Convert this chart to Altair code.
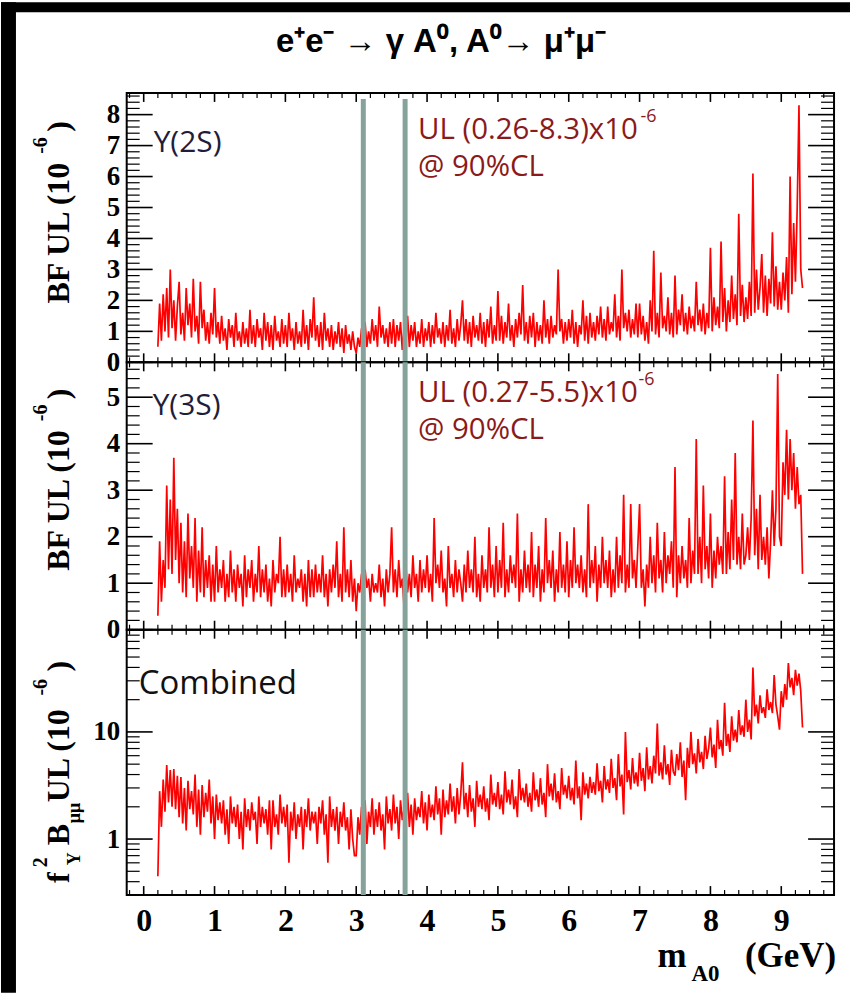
import altair as alt
import pandas as pd

# ---------------- data ----------------
# upper limits sampled every 0.025 GeV starting at 0.20 GeV
X_START = 0.20
X_STEP = 0.025

ul_2s = [
    0.5, 1.9, 0.7, 2.2, 1.0, 2.4, 0.8, 3.0, 1.1, 2.0, 0.7, 1.8,
    2.6, 0.9, 1.6, 0.7, 2.4, 1.2, 1.9, 0.8, 2.7, 1.0, 1.5, 0.6, 2.6, 1.1, 1.7, 0.7, 1.3, 0.6, 1.6, 0.9,
    2.4, 0.8, 1.3, 0.6, 1.5, 0.7, 1.1, 0.4, 1.4, 0.8, 1.2, 0.5, 1.6, 0.7, 1.0, 0.5, 1.3, 0.6, 1.1, 0.5,
    1.7, 0.6, 1.2, 0.5, 1.4, 0.8, 1.1, 0.4, 1.6, 0.7, 1.3, 0.5, 1.2, 0.4, 1.5, 0.7, 1.0, 0.5, 1.4, 0.6,
    1.2, 0.5, 1.6, 0.7, 1.1, 0.4, 1.3, 0.6, 1.0, 0.5, 1.7, 0.6, 1.2, 0.4, 1.4, 0.8, 2.1, 0.7, 1.2, 0.5,
    1.3, 0.4, 1.6, 0.7, 1.1, 0.5, 1.2, 0.4, 1.0, 0.6, 1.3, 0.5, 1.1, 0.3, 1.2, 0.6, 0.9, 0.4, 1.0, 0.5,
    0.3, 0.8, 0.5, 1.1, 0.6, 1.3, 0.5, 1.0, 0.6, 1.4, 0.7, 1.2, 0.5, 1.8, 0.8, 1.2, 0.6, 1.1, 0.5, 1.3,
    0.6, 1.4, 0.5, 1.2, 0.7, 1.3, 0.4, 1.1, 0.6, 1.5, 0.5, 1.2, 0.7, 1.3, 0.5, 1.0, 0.6, 1.4, 0.5, 1.1,
    0.7, 1.3, 0.5, 1.2, 0.6, 1.6, 0.8, 1.1, 0.6, 1.3, 0.5, 1.2, 0.7, 1.7, 0.6, 1.1, 0.5, 1.4, 0.7, 1.2,
    2.0, 0.7, 1.4, 0.6, 1.3, 0.5, 1.5, 0.8, 1.2, 0.7, 1.6, 0.6, 1.3, 0.5, 1.4, 0.8, 1.8, 0.6, 1.2, 0.7,
    2.3, 0.7, 1.5, 0.6, 1.3, 0.8, 1.9, 0.7, 1.2, 0.5, 1.4, 0.8, 1.6, 0.9, 2.5, 0.7, 1.3, 0.6, 1.5, 0.8,
    1.6, 0.5, 1.3, 0.7, 1.2, 0.6, 2.0, 0.8, 1.4, 0.6, 1.5, 0.8, 1.2, 0.9, 3.0, 1.0, 1.4, 0.6, 1.3, 0.7,
    1.4, 0.8, 1.7, 0.6, 1.3, 0.5, 1.2, 0.9, 2.0, 0.7, 1.5, 0.6, 1.6, 0.8, 1.3, 0.7, 1.5, 0.9, 1.8, 0.8,
    1.4, 0.7, 1.8, 0.9, 1.3, 1.0, 2.2, 0.8, 1.5, 0.7, 3.0, 1.1, 1.6, 1.0, 1.7, 0.8, 1.4, 0.9, 1.9, 0.8,
    1.9, 0.9, 1.5, 0.7, 1.3, 0.6, 2.0, 1.0, 3.6, 0.9, 1.6, 0.8, 2.9, 1.1, 1.5, 1.0, 2.1, 0.9, 1.6, 0.8,
    2.8, 0.9, 1.7, 1.2, 2.2, 1.0, 1.6, 0.9, 1.8, 1.1, 1.5, 1.0, 2.6, 1.2, 1.7, 1.0, 1.9, 0.9, 1.6, 1.1,
    3.7, 1.0, 2.1, 1.2, 1.8, 1.1, 3.9, 1.3, 2.4, 1.0, 2.0, 1.3, 2.8, 1.4, 2.2, 1.2, 4.8, 1.5, 2.5, 1.3,
    2.1, 1.4, 2.6, 1.5, 6.1, 1.6, 3.0, 1.7, 2.4, 3.5, 1.6, 2.8, 1.5, 2.7, 1.9, 4.2, 1.8, 3.1, 1.7, 2.6,
    1.7, 2.9, 2.0, 3.4, 1.6, 6.0, 2.2, 4.5, 2.6, 5.0, 8.3, 3.0, 2.4,
]

ul_3s = [
    0.3, 1.9, 0.6, 1.5, 0.9, 3.1, 1.3, 2.8, 1.2, 3.7, 1.5, 2.6,
    1.0, 2.3, 0.8, 1.9, 0.7, 2.5, 1.1, 1.8, 0.9, 2.4, 0.6, 1.7, 0.8, 2.2, 0.7, 1.5, 0.9, 1.6, 0.6, 1.4,
    0.6, 1.8, 0.8, 1.3, 0.9, 1.5, 0.6, 1.2, 0.7, 1.7, 0.8, 1.3, 0.6, 1.4, 0.9, 1.2, 0.5, 1.6, 0.7, 1.3,
    0.9, 1.5, 0.6, 1.2, 0.8, 1.8, 0.7, 1.3, 0.8, 1.4, 0.6, 1.1, 0.5, 1.5, 0.8, 1.2, 1.0, 2.0, 0.7, 1.3,
    0.7, 1.4, 0.8, 1.2, 0.6, 1.6, 0.8, 1.1, 0.9, 1.3, 0.6, 1.2, 0.5, 1.5, 0.7, 1.3, 0.7, 1.4, 0.8, 1.2,
    0.8, 1.6, 0.7, 1.2, 0.5, 1.3, 0.8, 1.4, 0.9, 1.9, 0.7, 1.2, 0.6, 2.2, 0.8, 1.3, 0.7, 1.5, 0.6, 1.1,
    0.4, 1.0, 0.8, 1.2, 0.7, 1.3, 0.9, 1.1, 0.6, 1.2, 0.8, 1.0, 0.8, 1.4, 0.7, 1.1, 0.5, 1.3, 0.8, 1.2,
    2.2, 0.8, 1.3, 0.7, 1.5, 0.9, 1.1, 0.5, 1.4, 0.8, 1.2, 0.7, 1.6, 0.9, 1.2, 0.6, 1.5, 0.8, 1.3, 0.9,
    1.6, 0.8, 1.2, 0.6, 2.4, 1.0, 1.4, 0.9, 1.7, 0.8, 1.1, 0.5, 1.8, 0.9, 1.2, 0.7, 1.5, 0.8, 1.3, 1.0,
    0.6, 1.4, 0.8, 1.7, 0.9, 1.3, 0.8, 2.0, 0.7, 1.2, 0.6, 1.6, 0.9, 1.3, 0.8, 2.2, 0.9, 1.4, 0.7, 1.8,
    0.8, 1.5, 0.9, 2.3, 0.7, 1.3, 0.8, 1.6, 1.0, 1.4, 0.9, 2.5, 0.6, 1.3, 0.8, 1.7, 0.9, 1.4, 0.8, 2.1,
    0.7, 1.4, 0.9, 1.8, 0.6, 1.3, 0.8, 2.4, 1.0, 1.5, 0.9, 1.7, 0.6, 1.3, 0.8, 2.1, 0.9, 1.4, 0.8, 1.9,
    0.7, 1.5, 0.9, 2.2, 1.0, 1.4, 0.9, 1.6, 0.8, 1.3, 0.7, 2.7, 0.9, 1.5, 1.0, 1.8, 0.6, 1.4, 0.9, 2.0,
    1.0, 1.5, 0.9, 1.7, 0.7, 1.3, 0.8, 2.0, 0.9, 1.6, 1.0, 2.9, 0.8, 1.4, 0.9, 2.7, 1.1, 1.5, 0.9, 1.8,
    2.7, 0.9, 1.3, 0.5, 1.4, 0.9, 2.0, 1.0, 1.6, 0.8, 2.3, 1.1, 1.5, 0.8, 2.1, 1.0, 1.6, 1.2, 1.9, 0.9,
    3.5, 0.7, 1.6, 1.0, 1.8, 1.1, 1.5, 0.9, 2.4, 1.0, 1.7, 1.2, 4.1, 1.2, 2.0, 1.0, 3.1, 1.3, 1.8, 1.1,
    2.5, 0.9, 1.7, 1.1, 2.0, 1.4, 1.8, 1.2, 3.3, 1.2, 2.1, 1.3, 2.8, 1.5, 3.8, 1.4, 2.0, 1.3, 2.5, 1.4,
    1.6, 2.2, 1.5, 2.4, 4.5, 1.6, 2.6, 1.3, 2.9, 1.5, 2.0, 1.4, 2.2, 1.1, 1.9, 3.0, 1.8, 2.6, 5.5, 2.0,
    1.8, 3.6, 2.9, 4.3, 2.8, 4.1, 3.0, 3.8, 2.6, 3.5, 2.7, 2.9, 1.2,
]

ul_comb = [
    0.45, 2.8, 1.3, 3.6, 1.8, 4.9, 2.2, 4.4, 2.0, 4.5, 1.9, 3.9,
    1.6, 3.8, 1.4, 3.0, 1.2, 3.5, 1.9, 2.8, 1.7, 4.0, 1.3, 2.9, 1.1, 3.2, 1.6, 2.7, 1.8, 3.6, 1.4, 2.5,
    1.0, 2.6, 1.5, 2.2, 1.4, 2.3, 1.1, 1.9, 0.9, 2.5, 1.4, 2.0, 1.3, 2.1, 1.0, 1.8, 0.8, 2.4, 1.3, 1.9,
    1.2, 2.2, 1.5, 1.8, 0.9, 2.5, 1.3, 2.0, 1.4, 1.9, 1.1, 2.3, 0.8, 2.3, 1.3, 1.7, 1.1, 2.6, 1.4, 2.0,
    1.3, 2.1, 0.6, 1.8, 1.2, 2.2, 1.0, 1.7, 1.3, 2.0, 0.8, 1.9, 1.3, 2.4, 1.2, 1.8, 1.4, 1.8, 0.9, 2.0,
    1.4, 2.3, 1.1, 1.7, 0.6, 2.5, 1.3, 1.9, 1.2, 2.0, 0.9, 1.8, 1.3, 2.2, 1.2, 1.6, 0.8, 1.9, 1.0, 0.7,
    0.7, 1.6, 1.1, 2.0, 1.2, 2.3, 0.9, 1.8, 1.3, 2.4, 1.1, 1.9, 1.3, 2.2, 1.2, 1.7, 0.8, 2.5, 1.4, 1.9,
    1.2, 2.6, 1.4, 2.0, 1.0, 2.3, 1.5, 1.9, 1.4, 2.7, 1.3, 2.1, 1.1, 2.4, 1.5, 2.0, 1.6, 2.8, 1.4, 2.2,
    1.2, 2.6, 1.6, 2.1, 1.5, 3.1, 1.7, 2.4, 1.1, 2.9, 1.6, 2.3, 1.7, 3.3, 1.8, 2.5, 1.4, 3.0, 1.7, 2.6,
    5.2, 1.9, 2.7, 1.6, 3.2, 1.8, 2.4, 1.3, 3.5, 2.0, 2.6, 1.9, 3.1, 1.8, 2.4, 1.5, 4.0, 2.1, 2.7, 2.0,
    3.4, 1.9, 2.6, 1.7, 4.3, 2.2, 2.9, 2.1, 3.6, 1.9, 2.5, 1.6, 4.5, 2.3, 3.0, 2.2, 3.3, 2.0, 2.7, 1.8,
    4.2, 2.3, 2.9, 2.0, 3.7, 2.1, 2.7, 1.6, 5.0, 2.5, 3.3, 2.3, 4.1, 2.2, 2.8, 1.9, 4.6, 2.6, 3.2, 2.4,
    3.9, 2.3, 3.0, 2.1, 5.4, 2.4, 3.1, 1.5, 4.2, 2.6, 3.3, 2.4, 3.8, 2.7, 3.4, 2.6, 5.1, 2.8, 3.5, 2.2,
    4.8, 2.9, 3.6, 2.7, 5.6, 3.0, 3.7, 2.3, 6.2, 3.1, 4.0, 1.7, 10.0, 3.4, 4.4, 2.9, 5.7, 3.3, 4.2, 3.1,
    6.4, 3.5, 4.6, 2.8, 7.2, 3.6, 4.8, 3.3, 6.0, 4.1, 12.0, 3.9, 5.2, 3.6, 7.5, 4.0, 5.0, 3.2, 6.8, 4.3,
    3.9, 6.2, 4.4, 8.0, 3.8, 5.4, 2.3, 7.1, 4.6, 10.0, 5.0, 6.3, 4.1, 8.6, 5.2, 6.5, 4.5, 9.2, 5.6, 7.0,
    11.0, 5.8, 7.6, 4.6, 13.0, 6.9, 8.4, 6.0, 18.7, 7.4, 9.6, 6.5, 14.0, 8.3, 10.5, 8.0, 16.0, 9.4, 11.5, 9.0,
    20.0, 10.0, 13.0, 8.5, 40.0, 14.0, 18.0, 12.0, 22.0, 15.0, 17.0, 13.5, 25.0, 16.0, 19.0, 15.0, 34.0, 18.0, 14.0, 10.5,
    24.0, 17.0, 28.0, 20.0, 44.0, 26.0, 32.0, 22.0, 38.0, 27.0, 35.0, 24.0, 11.0,
]


def mass_grid(n):
    return [round(X_START + i * X_STEP, 3) for i in range(n)]


veto_mass = [3.10, 3.69]

x_major = [0, 1, 2, 3, 4, 5, 6, 7, 8, 9]
x_minor = [round(k * 0.2, 1) for k in range(-1, 49) if k % 5 != 0]

y1_major = [0, 1, 2, 3, 4, 5, 6, 7, 8]
y1_minor = [round(k * 0.2, 1) for k in range(1, 44) if k % 5 != 0]
y2_major = [0, 1, 2, 3, 4, 5]
y2_minor = [round(k * 0.2, 1) for k in range(1, 29) if k % 5 != 0]
y3_major = [1, 10]
y3_minor = [0.3, 0.4, 0.5, 0.6, 0.7, 0.8, 0.9, 2, 3, 4, 5, 6, 7, 8, 9,
            20, 30, 40, 50, 60, 70, 80, 90]

# ---------------- layout ----------------
W = 709
H1, H2, H3 = 270, 268, 266
X_DOMAIN = [-0.24, 9.745]

SERIF = "Liberation Serif"
SANS = "Open Sans"
RED = "#ff0000"
DARKRED = "#8b1a1a"
NAVY = "#1e1e3c"
VETO = "#86a39b"

xs = alt.Scale(domain=X_DOMAIN, nice=False, zero=False)

one = alt.Data(values=[{"a": 1}])


def txt(text, x, y, size, color="black", font=SANS, weight="normal",
        angle=0, align="left", baseline="middle"):
    return alt.Chart(one).mark_text(
        text=text, font=font, fontSize=size, fontWeight=weight, color=color,
        angle=angle, align=align, baseline=baseline
    ).encode(x=alt.value(x), y=alt.value(y))


def panel(values, ys, H, ylab_values, ymajor, yminor, show_x, extras, ylab_fmt=None):
    df = pd.DataFrame({"m": mass_grid(len(values)), "v": values})
    if show_x:
        xaxis = alt.Axis(values=x_major, labelFont=SERIF, labelFontWeight="bold",
                         labelFontSize=32, ticks=False, domain=False, grid=False,
                         labelPadding=11, title=None, labelColor="black",
                         labelFlush=False)
    else:
        xaxis = None
    yaxis_kw = dict(values=ylab_values, labelFont=SERIF, labelFontWeight="bold",
                    labelFontSize=27, ticks=False, domain=False, grid=False,
                    labelPadding=7, title=None, labelColor="black",
                    labelFlush=False, labelOverlap=False)
    if ylab_fmt:
        yaxis_kw["format"] = ylab_fmt
    yaxis = alt.Axis(**yaxis_kw)

    line = alt.Chart(df).mark_line(color=RED, strokeWidth=1.7).encode(
        x=alt.X("m:Q", scale=xs, axis=xaxis),
        y=alt.Y("v:Q", scale=ys, axis=yaxis),
    )
    vlines = alt.Chart(pd.DataFrame({"m": veto_mass})).mark_rule(
        color=VETO, strokeWidth=5).encode(
        x=alt.X("m:Q", scale=xs, axis=xaxis),
        y=alt.value(6 if H == H1 else 0), y2=alt.value(H))

    def xt(vals, y0, y1, sw):
        return alt.Chart(pd.DataFrame({"m": vals})).mark_rule(
            color="black", strokeWidth=sw).encode(
            x=alt.X("m:Q", scale=xs, axis=xaxis), y=alt.value(y0), y2=alt.value(y1))

    def yt(vals, x0, x1, sw):
        return alt.Chart(pd.DataFrame({"v": vals})).mark_rule(
            color="black", strokeWidth=sw).encode(
            y=alt.Y("v:Q", scale=ys, axis=yaxis), x=alt.value(x0), x2=alt.value(x1))

    ticks = [
        xt(x_major, 0, 9, 1.6), xt(x_major, H - 9, H, 1.6),
        xt(x_minor, 0, 5, 1.2), xt(x_minor, H - 5, H, 1.2),
        yt(ymajor, 0, 26, 1.6), yt(ymajor, W - 26, W, 1.6),
        yt(yminor, 0, 13, 1.2), yt(yminor, W - 13, W, 1.2),
    ]
    layers = extras[0] + [line, vlines] + ticks + extras[1]
    return alt.layer(*layers).properties(width=W, height=H)


# panel 1 -------------------------------------------------------------
ys1 = alt.Scale(domain=[0, 8.7], nice=False, zero=False)
frame_left = alt.Chart(one).mark_rect(color="black").encode(
    x=alt.value(-126), x2=alt.value(-111), y=alt.value(-91), y2=alt.value(902))
frame_top = alt.Chart(one).mark_rect(color="black").encode(
    x=alt.value(-126), x2=alt.value(725), y=alt.value(-91), y2=alt.value(-81))

p1_text = [
    txt("e⁺e⁻ → γ A⁰, A⁰→ μ⁺μ⁻", 315, -51, 33,
        font="Liberation Sans Narrow, Liberation Sans, Arial", weight="bold", align="center"),
    txt("Υ(2S)", 27, 50, 30, color=NAVY),
    txt("UL (0.26-8.3)x10", 292, 37, 29.5, color=DARKRED),
    txt("-6", 515, 24, 18, color=DARKRED),
    txt("@ 90%CL", 292, 74, 29.5, color=DARKRED),
    txt("BF UL (10", -68, 211, 32, font=SERIF, weight="bold", angle=270),
    txt("-6", -86, 61, 20, font=SERIF, weight="bold", angle=270),
    txt(")", -68, 39, 32, font=SERIF, weight="bold", angle=270),
]
p1 = panel(ul_2s, ys1, H1, y1_major, y1_major, y1_minor, False,
           ([frame_left, frame_top], p1_text))

# panel 2 -------------------------------------------------------------
ys2 = alt.Scale(domain=[0, 5.75], nice=False, zero=False)
p2_text = [
    txt("Υ(3S)", 26, 44, 30, color=NAVY),
    txt("UL (0.27-5.5)x10", 292, 31, 29.5, color=DARKRED),
    txt("-6", 513, 18, 18, color=DARKRED),
    txt("@ 90%CL", 292, 68, 29.5, color=DARKRED),
    txt("BF UL (10", -68, 209, 32, font=SERIF, weight="bold", angle=270),
    txt("-6", -86, 59, 20, font=SERIF, weight="bold", angle=270),
    txt(")", -68, 37, 32, font=SERIF, weight="bold", angle=270),
]
p2 = panel(ul_3s, ys2, H2, y2_major, y2_major, y2_minor, False, ([], p2_text))

# panel 3 -------------------------------------------------------------
ys3 = alt.Scale(type="log", domain=[0.3, 90], nice=False)
p3_text = [
    txt("Combined", 12, 54, 33, color="#111111"),
    txt("f", -68, 254, 32, font=SERIF, weight="bold", angle=270),
    txt("2", -86, 238, 20, font=SERIF, weight="bold", angle=270),
    txt("Υ", -52, 236, 18, font=SERIF, weight="bold", angle=270),
    txt("B", -68, 216, 32, font=SERIF, weight="bold", angle=270),
    txt("μμ", -52, 194, 18, font=SERIF, weight="bold", angle=270),
    txt("UL (10", -68, 173, 32, font=SERIF, weight="bold", angle=270),
    txt("-6", -86, 66, 20, font=SERIF, weight="bold", angle=270),
    txt(")", -68, 42, 32, font=SERIF, weight="bold", angle=270),
    txt("m", 532, 338, 35, font=SERIF, weight="bold", baseline="alphabetic"),
    txt("A0", 566, 352, 23, font=SERIF, weight="bold", baseline="alphabetic"),
    txt("(GeV)", 711, 338, 35, font=SERIF, weight="bold", align="right",
        baseline="alphabetic"),
]
p3 = panel(ul_comb, ys3, H3, y3_major, y3_major, y3_minor, True, ([], p3_text),
           ylab_fmt="~g")

chart = alt.vconcat(p1, p2, p3, spacing=0, bounds="flush").properties(
    padding=0, background="white"
).configure_view(stroke="black", strokeWidth=2)

chart.save("out.html", embed_options={"renderer": "svg", "actions": False})
